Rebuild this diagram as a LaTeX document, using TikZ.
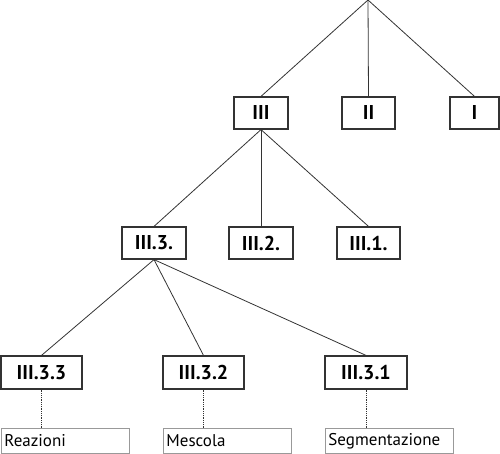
\documentclass[tikz,border=0pt]{standalone}
\usepackage{fontspec}
\setmainfont{PT Sans}
\usepackage{tikz}
\definecolor{treeline}{HTML}{333333}
\definecolor{tagline}{HTML}{999999}

\begin{document}
\begin{tikzpicture}[x=1pt, y=-1pt,
    part/.style={draw=treeline, line width=1.2pt, fill=white, inner sep=0pt,
      minimum height=32pt, font=\fontsize{20}{24}\selectfont\bfseries},
    tag/.style={draw=tagline, line width=0.9pt, anchor=north west, inner xsep=3pt,
      inner ysep=0pt, minimum height=25pt, text width=122pt, align=left,
      font=\fontsize{17}{20}\selectfont},
    branch/.style={draw=treeline, line width=0.8pt},
    hint/.style={draw=treeline, line width=0.8pt, densely dotted}]
  \useasboundingbox (0,0) rectangle (500,454);
  % root of the tree
  \coordinate (root) at (368,0);
  % first level
  \node[part, minimum width=54pt] (p3) at (261,113) {III};
  \node[part, minimum width=53pt] (p2) at (368.5,113) {II};
  \node[part, minimum width=49pt] (p1) at (474.5,113) {I};
  % second level
  \node[part, minimum width=64pt] (p33) at (154,243) {III.3.};
  \node[part, minimum width=64pt] (p32) at (261,243) {III.2.};
  \node[part, minimum width=63pt] (p31) at (368.5,243) {III.1.};
  % third level
  \node[part, minimum width=81pt, minimum height=33pt] (p333) at (41.5,372.5) {III.3.3};
  \node[part, minimum width=81pt, minimum height=33pt] (p332) at (203.5,372.5) {III.3.2};
  \node[part, minimum width=82pt, minimum height=33pt] (p331) at (366,372.5) {III.3.1};
  % labels
  \node[tag] (reaz) at (1,428) {Reazioni};
  \node[tag] (mesc) at (163,428) {Mescola};
  \node[tag] (segm) at (325,428) {Segmentazione};

  \draw[branch] (root) -- (p3.north);
  \draw[branch] (root) -- (p2.north);
  \draw[branch] (root) -- (p1.north);
  \draw[branch] (p3.south) -- (p33.north);
  \draw[branch] (p3.south) -- (p32.north);
  \draw[branch] (p3.south) -- (p31.north);
  \draw[branch] (p33.south) -- (p333.north);
  \draw[branch] (p33.south) -- (p332.north);
  \draw[branch] (p33.south) -- (p331.north);
  \draw[hint] (p333.south) -- (p333.south |- reaz.north);
  \draw[hint] (p332.south) -- (p332.south |- mesc.north);
  \draw[hint] (p331.south) -- (p331.south |- segm.north);
\end{tikzpicture}
\end{document}
